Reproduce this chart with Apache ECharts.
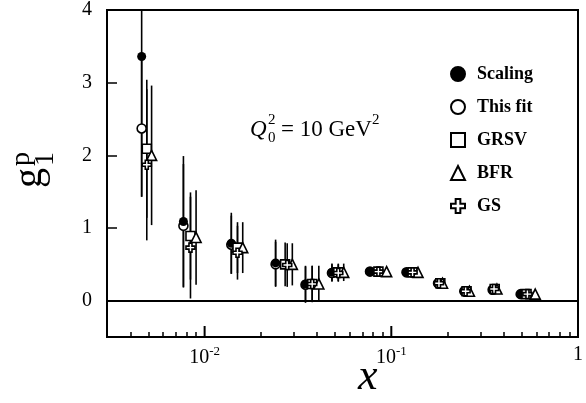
<!DOCTYPE html>
<html>
<head>
<meta charset="utf-8">
<script src="https://cdn.jsdelivr.net/npm/echarts@6/dist/echarts.min.js"></script>
<style>
  html, body { margin: 0; padding: 0; background: #fff; }
  #chart { width: 586px; height: 403px; }
</style>
</head>
<body>
<div id="chart"></div>
<script>
// g1^p evolved to Q0^2 = 10 GeV^2 under several assumptions

// x positions per series (slightly staggered so the bars stay readable)
const xScaling = [0.0046, 0.0077, 0.0139, 0.0240, 0.0347, 0.0481, 0.0769, 0.1206, 0.178, 0.246, 0.349, 0.493];
const xFit     = [0.0046, 0.0077, 0.0139, 0.0240, 0.0347, 0.0481, 0.0769, 0.1206, 0.178, 0.246, 0.349, 0.493];
const xGRSV    = [0.0049, 0.0084, 0.0150, 0.0270, 0.0377, 0.0520, 0.0853, 0.1300, 0.183, 0.253, 0.358, 0.530];
const xBFR     = [0.0052, 0.0090, 0.0160, 0.0295, 0.0409, 0.0556, 0.0944, 0.1390, 0.188, 0.262, 0.368, 0.590];
const xGS      = [0.0049, 0.0084, 0.0150, 0.0277, 0.0377, 0.0520, 0.0853, 0.1300, 0.180, 0.250, 0.355, 0.536];

// g1^p values
const yScaling = [3.36, 1.09, 0.79, 0.52, 0.23, 0.39, 0.40, 0.39, 0.24, 0.13, 0.15, 0.09];
const yFit     = [2.37, 1.03, 0.77, 0.50, 0.22, 0.38, 0.40, 0.39, 0.24, 0.13, 0.15, 0.09];
const yGRSV    = [2.09, 0.89, 0.73, 0.50, 0.23, 0.39, 0.40, 0.39, 0.24, 0.13, 0.16, 0.09];
const yBFR     = [2.00, 0.87, 0.73, 0.50, 0.23, 0.39, 0.40, 0.39, 0.24, 0.13, 0.16, 0.09];
const yGS      = [1.87, 0.73, 0.66, 0.49, 0.23, 0.38, 0.40, 0.39, 0.24, 0.13, 0.16, 0.09];

// symmetric uncertainties
const eScaling = [1.93, 0.90, 0.42, 0.32, 0.25, 0.12, 0.06, 0.05, 0.03, 0.02, 0.02, 0.02];
const eFit     = [0.94, 0.85, 0.40, 0.31, 0.25, 0.12, 0.06, 0.05, 0.03, 0.02, 0.02, 0.02];
const eGRSV    = [0.95, 0.60, 0.35, 0.30, 0.25, 0.12, 0.06, 0.05, 0.03, 0.02, 0.02, 0.02];
const eBFR     = [0.96, 0.65, 0.35, 0.29, 0.25, 0.12, 0.06, 0.05, 0.03, 0.02, 0.02, 0.02];
const eGS      = [1.04, 0.70, 0.37, 0.30, 0.25, 0.12, 0.06, 0.05, 0.03, 0.02, 0.02, 0.02];

const seriesNames = ['Scaling', 'This fit', 'GRSV', 'BFR', 'GS'];

// axis ticks
const xMajorTicks = [0.01, 0.1, 1];
const xMinorTicks = [0.003, 0.004, 0.005, 0.006, 0.007, 0.008, 0.009,
                     0.02, 0.03, 0.04, 0.05, 0.06, 0.07, 0.08, 0.09,
                     0.2, 0.3, 0.4, 0.5, 0.6, 0.7, 0.8, 0.9];
const xTickLabels = { '0.01': '{b|10}{s|-2}', '0.1': '{b|10}{s|-1}', '1': '{b|1}' };
const yTicks = [0, 1, 2, 3, 4];
const Y_MIN = -0.5, Y_MAX = 4;

const SERIF = '"Liberation Serif", "DejaVu Serif", serif';
const crossPath = 'path://M3,0L6,0L6,3L9,3L9,6L6,6L6,9L3,9L3,6L0,6L0,3L3,3Z';

function zip(xs, ys) { return xs.map((x, i) => [x, ys[i]]); }
function bars(xs, ys, es) { return xs.map((x, i) => [x, ys[i] - es[i], ys[i] + es[i]]); }

function errorBarSeries(name, xs, ys, es) {
  return {
    name: name + ' err',
    type: 'custom',
    clip: true,
    z: 2,
    silent: true,
    data: bars(xs, ys, es),
    renderItem: function (params, api) {
      const p0 = api.coord([api.value(0), api.value(1)]);
      const p1 = api.coord([api.value(0), api.value(2)]);
      return {
        type: 'line',
        shape: { x1: p0[0], y1: p0[1], x2: p1[0], y2: p1[1] },
        style: { stroke: '#000', lineWidth: 1.6 }
      };
    }
  };
}

function markerSeries(name, xs, ys, symbol, size, fill, z) {
  return {
    name: name,
    type: 'scatter',
    data: zip(xs, ys),
    symbol: symbol,
    symbolSize: size,
    z: z,
    itemStyle: { color: fill, borderColor: '#000', borderWidth: fill === '#000' ? 0 : 1.6, opacity: 1 }
  };
}

const chart = echarts.init(document.getElementById('chart'), null, { renderer: 'canvas' });

const option = {
  animation: false,
  backgroundColor: '#fff',
  grid: { left: 107, right: 3, top: 8, bottom: 66, show: true, borderColor: '#000', borderWidth: 2, backgroundColor: 'transparent' },
  legend: {
    orient: 'vertical',
    left: 445,
    top: 60,
    itemWidth: 14,
    itemHeight: 14,
    itemGap: 15,
    data: seriesNames,
    itemStyle: { borderWidth: 2 },
    textStyle: { fontFamily: SERIF, fontSize: 18, fontWeight: 'bold', color: '#000', padding: [0, 0, 0, 7] }
  },
  xAxis: [{
    type: 'log',
    min: 0.003,
    max: 1,
    logBase: 10,
    position: 'bottom',
    axisLine: { show: true, onZero: false, lineStyle: { color: '#000', width: 2 } },
    axisTick: { show: false },
    splitLine: { show: false },
    axisLabel: {
      customValues: xMajorTicks,
      margin: 8,
      color: '#000',
      fontFamily: SERIF,
      formatter: function (v) {
        const key = String(+v.toPrecision(3));
        return xTickLabels[key] || '';
      },
      rich: {
        b: { fontFamily: SERIF, fontSize: 20, color: '#000' },
        s: { fontFamily: SERIF, fontSize: 13, color: '#000', padding: [0, 0, 12, 0] }
      }
    }
  }, {
    type: 'log',
    min: 0.003,
    max: 1,
    logBase: 10,
    position: 'bottom',
    axisLine: { show: false, onZero: false },
    axisTick: { show: true, inside: true, length: 5, lineStyle: { color: '#000', width: 1.5 }, customValues: xMinorTicks },
    axisLabel: { show: false },
    splitLine: { show: false }
  }],
  yAxis: {
    type: 'value',
    min: Y_MIN,
    max: Y_MAX,
    axisLine: { show: true, onZero: false, lineStyle: { color: '#000', width: 2 } },
    axisTick: { show: true, inside: true, length: 10, lineStyle: { color: '#000', width: 1.5 }, customValues: yTicks },
    splitLine: { show: false },
    axisLabel: {
      customValues: yTicks,
      margin: 15,
      color: '#000',
      fontFamily: SERIF,
      fontSize: 20
    }
  },
  series: [
    errorBarSeries('This fit', xFit, yFit, eFit),
    errorBarSeries('Scaling', xScaling, yScaling, eScaling),
    errorBarSeries('GRSV', xGRSV, yGRSV, eGRSV),
    errorBarSeries('BFR', xBFR, yBFR, eBFR),
    errorBarSeries('GS', xGS, yGS, eGS),
    markerSeries('This fit', xFit, yFit, 'circle', 9, '#fff', 3),
    markerSeries('Scaling', xScaling, yScaling, 'circle', 9, '#000', 4),
    markerSeries('GRSV', xGRSV, yGRSV, 'rect', 9, '#fff', 5),
    markerSeries('BFR', xBFR, yBFR, 'triangle', 10, '#fff', 6),
    markerSeries('GS', xGS, yGS, crossPath, 9, '#fff', 7),
    {
      name: 'zero',
      type: 'line',
      data: [],
      markLine: {
        silent: true,
        symbol: 'none',
        label: { show: false },
        lineStyle: { color: '#000', width: 2, type: 'solid' },
        data: [{ yAxis: 0 }]
      }
    }
  ],
  graphic: [
    // Q0^2 = 10 GeV^2
    { type: 'text', left: 250, top: 118, style: { text: 'Q', font: 'italic 23px ' + SERIF, fill: '#000' } },
    { type: 'text', left: 268, top: 113, style: { text: '2', font: '15px ' + SERIF, fill: '#000' } },
    { type: 'text', left: 268, top: 131, style: { text: '0', font: '15px ' + SERIF, fill: '#000' } },
    { type: 'text', left: 281, top: 118, style: { text: '= 10 GeV', font: '23px ' + SERIF, fill: '#000' } },
    { type: 'text', left: 372, top: 113, style: { text: '2', font: '15px ' + SERIF, fill: '#000' } },
    // x axis title
    { type: 'text', left: 358, top: 355, style: { text: 'x', font: 'italic 44px ' + SERIF, fill: '#000' } },
    // y axis title g1^p, reading upward
    {
      type: 'group',
      x: 50, y: 188,
      rotation: Math.PI / 2,
      children: [
        { type: 'text', x: 0, y: 0, style: { text: 'g', font: '40px ' + SERIF, fill: '#000', textAlign: 'left', textVerticalAlign: 'bottom' } },
        { type: 'text', x: 22, y: -14, style: { text: 'p', font: '28px ' + SERIF, fill: '#000', textAlign: 'left', textVerticalAlign: 'bottom' } },
        { type: 'text', x: 22, y: 10, style: { text: '1', font: '28px ' + SERIF, fill: '#000', textAlign: 'left', textVerticalAlign: 'bottom' } }
      ]
    }
  ]
};

chart.setOption(option);

// decade tick marks standing up from the bottom frame, placed through the x scale
const decadeTicks = xMajorTicks.map(function (v) {
  const p = chart.convertToPixel({ xAxisIndex: 0, yAxisIndex: 0 }, [v, Y_MIN]);
  return {
    type: 'line',
    z: 100,
    silent: true,
    shape: { x1: p[0], y1: p[1], x2: p[0], y2: p[1] - 11 },
    style: { stroke: '#000', lineWidth: 2 }
  };
});
chart.setOption({ graphic: option.graphic.concat(decadeTicks) });
</script>
</body>
</html>
